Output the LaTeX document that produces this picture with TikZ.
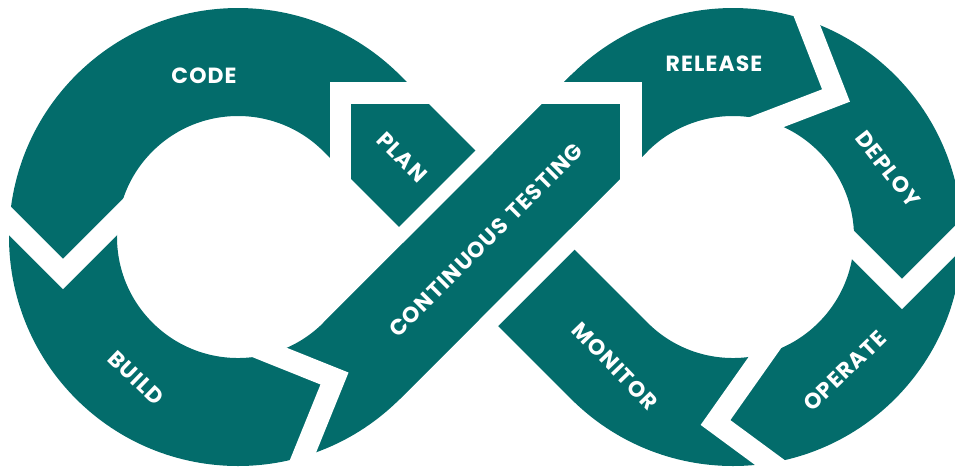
\documentclass[tikz,border=0pt]{standalone}
\usepackage{fontspec}
\setmainfont{Poppins}
\usetikzlibrary{calc}
\definecolor{loopteal}{RGB}{3,108,107}
\tikzset{
  band/.style={draw=loopteal, line width=2.16cm},
  gap/.style={draw=white, line width=0.43cm},
  lbl/.style={text=white, inner sep=0pt, font=\bfseries\fontsize{12.5}{12.5}\selectfont\addfontfeature{LetterSpace=5}}
}

\begin{document}
\begin{tikzpicture}[x=0.02cm, y=-0.02cm]
		%%%%% START %%%%%
		\useasboundingbox (0,0) rectangle (955,468);
		\coordinate (lc) at (238,237);
		\coordinate (rc) at (733,237);
		
		% the loop
		\draw[band] ($(lc)+(-45:175)$) arc (-45:-315:175) -- ($(rc)+(225:175)$) arc (225:495:175) -- cycle;
		
		% testing runs over the crossing
		\draw[white, line width=2.8cm] (442.5,282.5) -- (532.5,192.5);
		\draw[band] ($(lc)+(45:175)$) -- ($(rc)+(225:175)$);
		
		% cuts between the stages
		\draw[gap] (340.5,185) -- (340.5,93) -- (430,93);
		\draw[gap] (3,214) -- (63,274) -- (138,199);
		\draw[gap] (256,347) -- (334.5,378.5) -- (297,471);
		\draw[gap] (540,93) -- (631,93) -- (631,185);
		\draw[gap] (800,3) -- (836,95.5) -- (733,135);
		\draw[gap] (832,224) -- (902,294) -- (972,224);
		\draw[gap] (773,341) -- (715.5,422.5) -- (780,470);
		
		\node[lbl] (code) at (204,76) {CODE};
		\node[lbl, rotate=-45] (plan) at (402,157) {PLAN};
		\node[lbl, rotate=45] (testing) at (486,240) {CONTINUOUS\hspace{4.5pt}TESTING};
		\node[lbl] (release) at (714,64) {RELEASE};
		\node[lbl, rotate=-52] (deploy) at (888,169) {DEPLOY};
		\node[lbl, rotate=44] (operate) at (845,371) {OPERATE};
		\node[lbl, rotate=-46] (monitor) at (615,366) {MONITOR};
		\node[lbl, rotate=-44] (build) at (136,378) {BUILD};
		%%%%% END %%%%%
\end{tikzpicture}
\end{document}
